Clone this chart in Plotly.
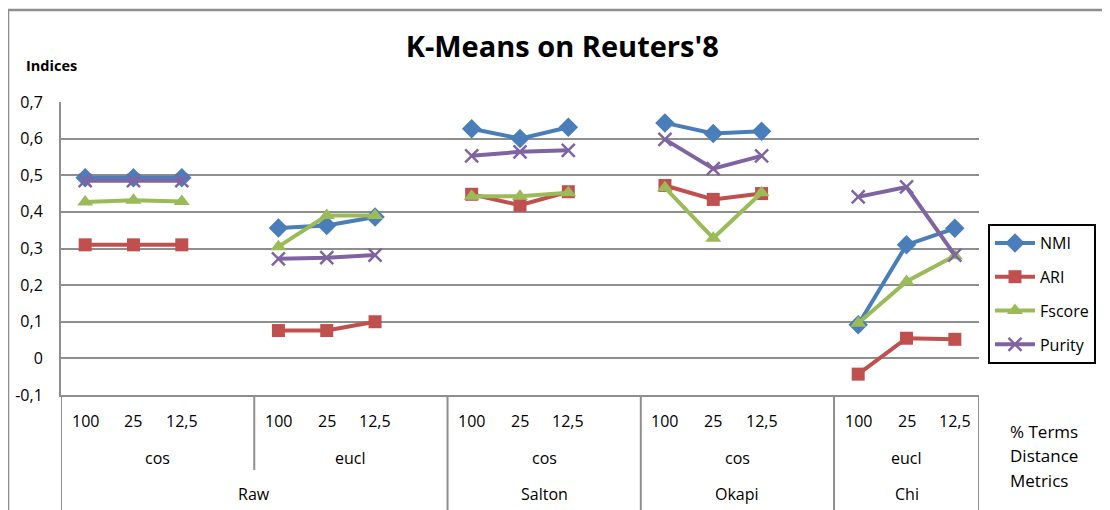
import plotly.graph_objects as go

# ---------------- data ----------------
percent_terms = ["100", "25", "12,5"]
distances = ["cos", "eucl", "cos", "cos", "eucl"]
weightings = ["Raw", "Salton", "Okapi", "Chi"]
weighting_span = [2, 1, 1, 1]          # number of distance groups per weighting

NMI = [0.493, 0.493, 0.493, 0.356, 0.363, 0.386, 0.627, 0.600, 0.631,
       0.643, 0.614, 0.620, 0.092, 0.310, 0.355]
ARI = [0.310, 0.310, 0.310, 0.076, 0.076, 0.100, 0.448, 0.418, 0.455,
       0.472, 0.434, 0.450, -0.043, 0.055, 0.052]
Fscore = [0.427, 0.432, 0.428, 0.305, 0.390, 0.390, 0.443, 0.443, 0.452,
          0.466, 0.328, 0.452, 0.096, 0.210, 0.280]
Purity = [0.485, 0.485, 0.485, 0.272, 0.275, 0.282, 0.553, 0.564, 0.568,
          0.598, 0.518, 0.553, 0.441, 0.468, 0.282]

y_tickvals = [-0.1, 0, 0.1, 0.2, 0.3, 0.4, 0.5, 0.6, 0.7]
y_ticktext = ["-0,1", "0", "0,1", "0,2", "0,3", "0,4", "0,5", "0,6", "0,7"]

series = [
    ("NMI", NMI, "#4A7EBB", "diamond", 15),
    ("ARI", ARI, "#C0504D", "square", 13),
    ("Fscore", Fscore, "#9BBB59", "triangle-up", 14),
    ("Purity", Purity, "#8064A2", "x-thin", 13),
]

# slot layout: each distance group has 3 terms + 1 blank slot (except last)
n_groups = len(distances)
slot_w = 4
n_slots = n_groups * slot_w - 1


def build_xy(vals):
    xs, ys = [], []
    for g in range(n_groups):
        for t in range(len(percent_terms)):
            xs.append(g * slot_w + t)
            ys.append(vals[g * len(percent_terms) + t])
        xs.append(None)
        ys.append(None)
    return xs, ys


FONT = "'Open Sans', Lato, sans-serif"
GRID = "#8E8E8E"

fig = go.Figure()
for i, (name, vals, color, sym, size) in enumerate(series):
    xs, ys = build_xy(vals)
    fig.add_trace(go.Scatter(
        x=xs, y=ys, name=name, mode="lines+markers",
        legendgroup=name,
        line=dict(color=color, width=4),
        marker=dict(symbol=sym, size=size, color=color,
                    line=dict(color=color, width=2.5 if sym == "x-thin" else 0)),
        connectgaps=False,
    ))

shapes = []
annotations = []
row_y = [-0.088, -0.215, -0.338]
bottom = -0.40
cat_font = dict(size=16, family=FONT, color="#000")

for g in range(n_groups):
    for t, lab in enumerate(percent_terms):
        annotations.append(dict(x=g * slot_w + t, y=row_y[0], xref="x", yref="paper",
                                text=lab, showarrow=False, yanchor="middle",
                                font=cat_font))
    start = g * slot_w - 0.5
    end = min(g * slot_w + slot_w - 0.5, n_slots - 0.5)
    annotations.append(dict(x=(start + end) / 2, y=row_y[1], xref="x", yref="paper",
                            text=distances[g], showarrow=False, yanchor="middle",
                            font=cat_font))

g0 = 0
for w, span in zip(weightings, weighting_span):
    start = g0 * slot_w - 0.5
    end = min((g0 + span) * slot_w - 0.5, n_slots - 0.5)
    annotations.append(dict(x=(start + end) / 2, y=row_y[2], xref="x", yref="paper",
                            text=w, showarrow=False, yanchor="middle",
                            font=cat_font))
    g0 += span

# separators
weight_bounds = set()
acc = 0
for span in weighting_span:
    weight_bounds.add(acc)
    acc += span
weight_bounds.add(acc)
for g in range(n_groups + 1):
    xpos = min(g * slot_w - 0.5, n_slots - 0.5)
    y1 = bottom if g in weight_bounds else -0.256
    shapes.append(dict(type="line", xref="x", yref="paper", x0=xpos, x1=xpos,
                       y0=0, y1=y1, line=dict(color=GRID, width=2)))

# outer chart frame (top and left)
shapes.append(dict(type="line", xref="paper", yref="paper", x0=-0.0577, x1=1.2,
                   y0=1.314, y1=1.314, line=dict(color=GRID, width=2.5)))
shapes.append(dict(type="line", xref="paper", yref="paper", x0=-0.0577, x1=-0.0577,
                   y0=1.314, y1=-0.45, line=dict(color=GRID, width=2.5)))

# axis-name texts
annotations.append(dict(x=-0.0403, y=1.126, xref="paper", yref="paper", text="<b>Indices</b>",
                        showarrow=False, xanchor="left", yanchor="middle",
                        font=dict(size=14.5, family=FONT, color="#000")))
for txt, yy in [("% Terms", -0.125), ("Distance", -0.208), ("Metrics", -0.293)]:
    annotations.append(dict(x=1.032, y=yy, xref="paper", yref="paper", text=txt,
                            showarrow=False, xanchor="left", yanchor="middle",
                            font=dict(size=17, family=FONT, color="#000")))

fig.update_layout(
    width=1102, height=502,
    margin=dict(l=53, r=131, t=94, b=115, autoexpand=False),
    paper_bgcolor="white", plot_bgcolor="white",
    title=dict(text="<b>K-Means on Reuters'8</b>", x=0.546, xref="paper",
               xanchor="center", y=0.922, yanchor="middle",
               font=dict(size=29, family=FONT, color="#000")),
    xaxis=dict(range=[-0.5, n_slots - 0.5], showticklabels=False, showgrid=False,
               zeroline=False, showline=True, linecolor=GRID, linewidth=2, ticks="",
               automargin=False),
    yaxis=dict(range=[-0.1, 0.7], tickvals=y_tickvals, ticktext=y_ticktext,
               showgrid=True, gridcolor=GRID, gridwidth=2, zeroline=False,
               showline=True, linecolor=GRID, linewidth=2, ticks="",
               ticklabelstandoff=13, automargin=False,
               tickfont=dict(size=16, family=FONT, color="#000")),
    legend=dict(x=1.0098, y=0.5836, xanchor="left", yanchor="top",
                bordercolor="#000", borderwidth=2, bgcolor="white",
                font=dict(size=16, family=FONT, color="#000"),
                traceorder="grouped", tracegroupgap=10, itemwidth=40),
    shapes=shapes, annotations=annotations,
    showlegend=True,
)

fig.write_html("out.html")
